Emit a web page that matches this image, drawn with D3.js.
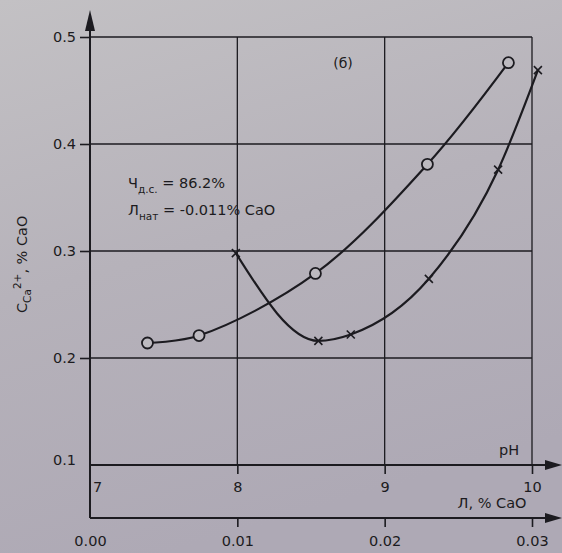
<!DOCTYPE html>
<html lang="ru">
<head>
<meta charset="UTF-8">
<script src="https://d3js.org/d3.v7.min.js"></script>
<style>
  body { margin: 0; padding: 0; background: #b3afb9; }
  svg { display: block; }
  text { font-family: "DejaVu Sans", sans-serif; fill: #1c1b20; }
</style>
</head>
<body>
<script>
// circles: C(Ca2+) vs pH
var phVals = [7.39, 7.74, 8.53, 9.29, 9.84];
var phConc = [0.214, 0.221, 0.279, 0.381, 0.476];
// crosses: C(Ca2+) vs alkalinity Л, % CaO
var alkVals = [0.0099, 0.0155, 0.0177, 0.0230, 0.0277, 0.0304];
var alkConc = [0.298, 0.216, 0.222, 0.274, 0.376, 0.469];

var yTicks = [0.1, 0.2, 0.3, 0.4, 0.5];
var phTicks = [7, 8, 9, 10];
var alkTicks = [0, 0.01, 0.02, 0.03];

var W = 562, H = 553;
var ink = "#1c1b20";

var svg = d3.select("body").append("svg").attr("width", W).attr("height", H);

var defs = svg.append("defs");
var grad = defs.append("linearGradient").attr("id", "paper")
  .attr("x1", 0).attr("y1", 0).attr("x2", 0.3).attr("y2", 1);
grad.append("stop").attr("offset", "0").attr("stop-color", "#c3c1c4");
grad.append("stop").attr("offset", "0.5").attr("stop-color", "#b6b2ba");
grad.append("stop").attr("offset", "1").attr("stop-color", "#aea9b5");
svg.append("rect").attr("width", W).attr("height", H).attr("fill", "url(#paper)");

var x0 = 90, x1 = 532;
var yPh = 465, yAlk = 518;

var xPh = d3.scaleLinear().domain([7, 10]).range([x0, x1]);
var xAlk = d3.scaleLinear().domain([0, 0.03]).range([x0, x1]);
var y = d3.scaleLinear().domain([0.1, 0.5]).range([yPh, 37]);

// grid
svg.append("g").selectAll("line").data(yTicks.slice(1)).join("line")
  .attr("x1", x0).attr("x2", x1)
  .attr("y1", function (d) { return y(d); }).attr("y2", function (d) { return y(d); })
  .attr("stroke", ink).attr("stroke-width", 1.4);
svg.append("g").selectAll("line").data(phTicks.slice(1)).join("line")
  .attr("x1", function (d) { return xPh(d); }).attr("x2", function (d) { return xPh(d); })
  .attr("y1", y(0.5)).attr("y2", yPh)
  .attr("stroke", ink).attr("stroke-width", 1.3);

// axes
function styleAxis(g) {
  g.select(".domain").remove();
  g.selectAll(".tick line").attr("stroke", ink).attr("stroke-width", 1.6);
  g.selectAll(".tick text").attr("font-size", 14.5).style("fill", ink);
}

var gy = svg.append("g").attr("transform", "translate(" + x0 + ",0)")
  .call(d3.axisLeft(y).tickValues(yTicks).tickFormat(d3.format(".1f")).tickSize(10).tickPadding(4))
  .call(styleAxis);
gy.selectAll(".tick").filter(function (d) { return d === 0.1; })
  .select("line").remove();
gy.selectAll(".tick").filter(function (d) { return d === 0.1; })
  .select("text").attr("dy", "-0.05em");

var gph = svg.append("g").attr("transform", "translate(0," + yPh + ")")
  .call(d3.axisBottom(xPh).tickValues(phTicks).tickFormat(d3.format("d")).tickSize(9).tickPadding(8))
  .call(styleAxis);
gph.selectAll(".tick").filter(function (d) { return d === 7; })
  .select("line").remove();
gph.selectAll(".tick").filter(function (d) { return d === 7; })
  .select("text").attr("x", 7);

var galk = svg.append("g").attr("transform", "translate(0," + yAlk + ")")
  .call(d3.axisBottom(xAlk).tickValues(alkTicks).tickFormat(d3.format(".2f")).tickSize(9).tickPadding(9))
  .call(styleAxis);
galk.selectAll(".tick").filter(function (d) { return d === 0; })
  .select("line").remove();

// axis lines with arrows
svg.append("line").attr("x1", x0).attr("x2", x0).attr("y1", yAlk).attr("y2", 28)
  .attr("stroke", ink).attr("stroke-width", 2);
svg.append("path").attr("d", "M" + x0 + ",10 L" + (x0 - 5) + ",31 L" + (x0 + 5) + ",31 Z").attr("fill", ink);

[yPh, yAlk].forEach(function (yy) {
  svg.append("line").attr("x1", x0).attr("x2", 550).attr("y1", yy).attr("y2", yy)
    .attr("stroke", ink).attr("stroke-width", 2);
  svg.append("path").attr("d", "M562," + yy + " L545," + (yy - 5) + " L545," + (yy + 5) + " Z").attr("fill", ink);
});

// axis titles
svg.append("text").attr("x", 509).attr("y", 455).attr("text-anchor", "middle")
  .attr("font-size", 14.5).text("pH");
svg.append("text").attr("x", 492).attr("y", 508).attr("text-anchor", "middle")
  .attr("font-size", 14.5).text("Л, % CaO");

var yl = svg.append("text").attr("transform", "translate(27,313) rotate(-90)")
  .attr("font-size", 14.5);
yl.append("tspan").text("C");
yl.append("tspan").attr("font-size", 10.5).attr("dy", 4).text("Ca");
yl.append("tspan").attr("font-size", 10.5).attr("dy", -10).text("2+");
yl.append("tspan").attr("dy", 6).text(", % CaO");

// annotations
svg.append("text").attr("x", 343).attr("y", 68).attr("text-anchor", "middle")
  .attr("font-size", 14).text("(б)");

var t1 = svg.append("text").attr("x", 128).attr("y", 188).attr("font-size", 14.5);
t1.append("tspan").text("Ч");
t1.append("tspan").attr("font-size", 10.5).attr("dy", 5).text("д.с.");
t1.append("tspan").attr("dy", -5).text(" = 86.2%");

var t2 = svg.append("text").attr("x", 128).attr("y", 215).attr("font-size", 14.5);
t2.append("tspan").text("Л");
t2.append("tspan").attr("font-size", 10.5).attr("dy", 5).text("нат");
t2.append("tspan").attr("dy", -5).text(" = -0.011% CaO");

// curves
var phData = phVals.map(function (v, i) { return { x: v, y: phConc[i] }; });
var alkData = alkVals.map(function (v, i) { return { x: v, y: alkConc[i] }; });

svg.append("path").datum(phData)
  .attr("d", d3.line().x(function (d) { return xPh(d.x); }).y(function (d) { return y(d.y); })
    .curve(d3.curveCatmullRom.alpha(0.5)))
  .attr("fill", "none").attr("stroke", ink).attr("stroke-width", 2.2);

svg.append("path").datum(alkData)
  .attr("d", d3.line().x(function (d) { return xAlk(d.x); }).y(function (d) { return y(d.y); })
    .curve(d3.curveMonotoneX))
  .attr("fill", "none").attr("stroke", ink).attr("stroke-width", 2.2);

// markers
svg.append("g").selectAll("circle").data(phData).join("circle")
  .attr("cx", function (d) { return xPh(d.x); })
  .attr("cy", function (d) { return y(d.y); })
  .attr("r", 5.5)
  .attr("fill", "#bdbac0").attr("stroke", ink).attr("stroke-width", 1.8);

svg.append("g").selectAll("path").data(alkData).join("path")
  .attr("transform", function (d) { return "translate(" + xAlk(d.x) + "," + y(d.y) + ")"; })
  .attr("d", "M-4,-4L4,4M-4,4L4,-4")
  .attr("stroke", ink).attr("stroke-width", 1.6);
</script>
</body>
</html>
